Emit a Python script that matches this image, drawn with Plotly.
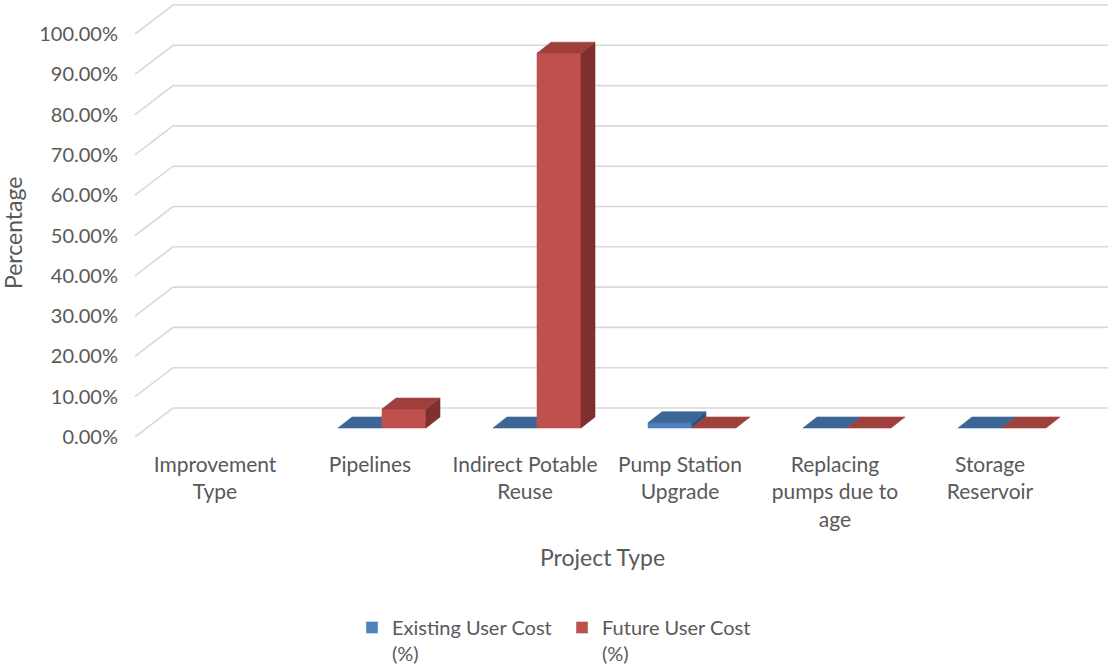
import plotly.graph_objects as go

# ---- data ----
categories = ["Improvement Type", "Pipelines", "Indirect Potable Reuse",
              "Pump Station Upgrade", "Replacing pumps due to age", "Storage Reservoir"]
tick_text = ["Improvement<br>Type", "Pipelines", "Indirect Potable<br>Reuse",
             "Pump Station<br>Upgrade", "Replacing<br>pumps due to<br>age", "Storage<br>Reservoir"]
existing_cost = [None, 0.0, 0.0, 1.3, 0.0, 0.0]     # percent
future_cost = [None, 4.7, 93.0, 0.0, 0.0, 0.0]      # percent
series_names = ["Existing User Cost<br>(%)", "Future User Cost<br>(%)"]
y_ticks = [0, 10, 20, 30, 40, 50, 60, 70, 80, 90, 100]
y_tick_text = [f"{v:.2f}%" for v in y_ticks]

# ---- geometry / style (oblique 3-D look) ----
PX_CAT = 155.0       # px per category
PX_PCT = 4.03        # px per percent
W = 44 / PX_CAT      # bar width
SX, SY = 12 / PX_CAT, 9 / PX_PCT        # bar front-plane shift
DX, DY = 14 / PX_CAT, 11 / PX_PCT       # bar depth
WX, WY = 38 / PX_CAT, 29 / PX_PCT       # wall depth
X_LEFT = (135 - 215) / PX_CAT
X_MIN, X_MAX = (130 - 215) / PX_CAT, (1108 - 215) / PX_CAT
Y_MIN, Y_MAX = -(445 - 437) / PX_PCT, 437 / PX_PCT

colors = {
    0: dict(front="#4f81bd", top="#3c6696", side="#2f527b"),
    1: dict(front="#c0504d", top="#a0403d", side="#7e302e"),
}
FONT = "Lato, Carlito, Calibri, sans-serif"
TXT = "#595959"

fig = go.Figure()

# gridlines on wall (left diagonal + back horizontal)
for v in y_ticks:
    fig.add_trace(go.Scatter(
        x=[X_LEFT, X_LEFT + WX, X_MAX], y=[v, v + WY, v + WY],
        mode="lines", line=dict(color="#d9d9d9", width=1.6),
        hoverinfo="skip", showlegend=False))


def poly(xs, ys, color):
    fig.add_trace(go.Scatter(
        x=xs + [xs[0]], y=ys + [ys[0]], mode="lines", fill="toself",
        fillcolor=color, line=dict(color=color, width=0.6),
        hoverinfo="skip", showlegend=False))


for i in range(len(categories)):
    for s, vals in enumerate([existing_cost, future_cost]):
        v = vals[i]
        if v is None:
            continue
        c = colors[s]
        x0 = i + SX + (s - 1) * W
        x1 = x0 + W
        yb, yt = SY, SY + v
        if v > 0:
            poly([x0, x1, x1, x0], [yb, yb, yt, yt], c["front"])
            poly([x1, x1 + DX, x1 + DX, x1], [yb, yb + DY, yt + DY, yt], c["side"])
        poly([x0, x1, x1 + DX, x0 + DX], [yt, yt, yt + DY, yt + DY], c["top"])

# legend entries
for s in range(2):
    fig.add_trace(go.Bar(x=[None], y=[None], name=series_names[s],
                         marker=dict(color=colors[s]["front"])))

fig.update_layout(
    width=1108, height=668,
    margin=dict(l=130, r=0, t=0, b=223),
    paper_bgcolor="white", plot_bgcolor="white",
    font=dict(family=FONT, color=TXT, size=20),
    xaxis=dict(range=[X_MIN, X_MAX], tickvals=list(range(len(categories))),
               ticktext=tick_text, showgrid=False, zeroline=False, showline=False,
               ticks="", tickfont=dict(size=21, color=TXT), ticklabelstandoff=5),
    yaxis=dict(range=[Y_MIN, Y_MAX], tickvals=y_ticks, ticktext=y_tick_text,
               showgrid=False, zeroline=False, showline=False, ticks="",
               tickfont=dict(size=20, color=TXT), ticklabelstandoff=11),
    showlegend=True,
    legend=dict(orientation="h", xref="container", yref="container",
                x=352 / 1108, y=1 - 608 / 668, xanchor="left", yanchor="top",
                font=dict(size=20, color=TXT), valign="top",
                entrywidth=165, entrywidthmode="pixels"),
    annotations=[
        dict(text="Percentage", xref="paper", yref="paper",
             x=(13 - 130) / 978, y=(445 - 233) / 445, textangle=-90,
             showarrow=False, xanchor="center", yanchor="middle",
             font=dict(size=23, color=TXT)),
        dict(text="Project Type", xref="paper", yref="paper",
             x=(602 - 130) / 978, y=(445 - 557) / 445,
             showarrow=False, xanchor="center", yanchor="middle",
             font=dict(size=23, color=TXT)),
    ],
)

fig.write_html("out.html", config={"displayModeBar": False},
               post_script="document.body.style.margin='0';document.body.style.padding='0';")
